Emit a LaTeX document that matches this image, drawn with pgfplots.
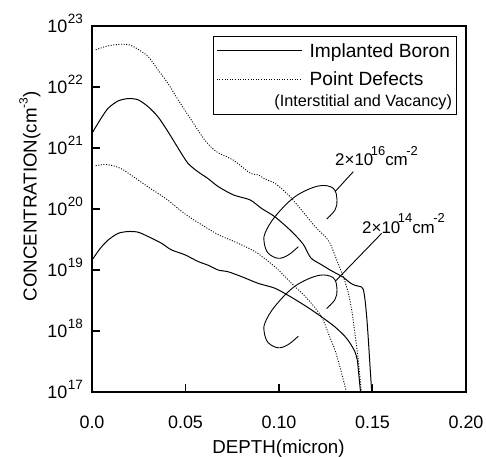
\documentclass[border=0pt]{standalone}
\usepackage{fontspec}
\setmainfont{Liberation Sans}
\usepackage{calc}
\usepackage{pgfplots}
\pgfplotsset{compat=1.18}
\newcommand{\ytl}[1]{10\kern0.6bp\smash{\raisebox{8.3bp}{\fontsize{13.5}{14}\selectfont #1}}}
\newcommand{\ann}[1]{2×10\kern-2.5bp\raisebox{10.5bp}{\fontsize{13}{13}\selectfont #1}cm\kern-1.5bp\raisebox{10.5bp}{\fontsize{13}{13}\selectfont -2}}
\begin{document}
\begin{tikzpicture}
\begin{axis}[
  at={(92bp,65bp)}, anchor=south west,
  scale only axis, width=374bp, height=366bp,
  xmin=0, xmax=0.2, ymin=1e17, ymax=1e23, ymode=log,
  xtick={0,0.05,0.1,0.15,0.2},
  xticklabels={0.0,0.05,0.10,0.15,0.20},
  ytick={1e17,1e18,1e19,1e20,1e21,1e22,1e23},
  yticklabels={\ytl{17},\ytl{18},\ytl{19},\ytl{20},\ytl{21},\ytl{22},\ytl{23}},
  yminorticks=false,
  tick align=inside, xtick pos=left, ytick pos=left,
  major tick length=8bp,
  major tick style={line width=1.3bp, black},
  axis line style={line width=1.5bp},
  ticklabel style={font=\fontsize{18}{20}\selectfont},
  xticklabel style={anchor=base, inner sep=0pt, yshift=-36.3bp},
  yticklabel style={anchor=east, inner sep=0pt, xshift=-9bp},
  every axis x label/.style={at={(axis description cs:0.4987,-0.1667)}, anchor=base},
  every axis y label/.style={at={(axis description cs:-0.1479,0.5342)}, rotate=90, anchor=base},
  label style={font=\fontsize{18.8}{20}\selectfont},
  xlabel={DEPTH(micron)},
  ylabel={CONCENTRATION(cm\raisebox{9bp}{\fontsize{12}{12}\selectfont -3})},
  legend cell align=left,
  legend style={at={(axis description cs:0.9751,0.9735)}, anchor=north east,
    draw=black, line width=0.8bp, fill=white,
    font=\fontsize{19.2}{21}\selectfont,
    inner xsep=3.3bp, inner ysep=2bp,
    nodes={inner sep=3bp},
    row sep=3.3bp, column sep=4.3bp},
  legend image code/.code={\draw[#1] (0bp,0bp) -- (85bp,0bp);},
]
% high dose boron
\addplot[black, line width=1bp, smooth, tension=0.45] coordinates {
(0,1.74e21) (0.0043,2.88e21) (0.0086,4.47e21) (0.0139,5.89e21) (0.0193,6.46e21)
(0.0246,6.17e21) (0.0299,4.79e21) (0.0353,3.24e21) (0.0406,1.86e21) (0.0460,1.00e21)
(0.0513,5.62e20) (0.0567,4.07e20) (0.0620,3.16e20) (0.0674,2.34e20) (0.0756,1.70e20)
(0.0845,1.41e20) (0.0907,1.02e20) (0.0979,7.41e19) (0.1068,4.27e19) (0.1130,2.63e19)
(0.1170,1.58e19) (0.1225,1.23e19) (0.1273,1.00e19) (0.1309,8.71e18) (0.1344,7.59e18)
(0.1380,6.17e18) (0.1406,5.62e18) (0.1442,5.25e18) (0.1451,4.79e18) (0.1460,3.24e18)
(0.1469,1.70e18) (0.1478,7.08e17) (0.1487,2.57e17) (0.1496,1.00e17)
};
\addlegendentry[text height=16.3bp, text depth=2.9bp]{Implanted Boron}
% high dose point defects
\addplot[black, line width=0.9bp, dash pattern=on 1bp off 1.6bp, smooth, tension=0.45] coordinates {
(0.002,4.07e22) (0.008,4.68e22) (0.015,5.01e22) (0.020,4.90e22) (0.024,4.27e22)
(0.030,3.16e22) (0.0353,1.91e22) (0.0406,1.15e22) (0.0460,6.17e21) (0.0531,2.88e21)
(0.0603,1.35e21) (0.0665,8.71e20) (0.0756,6.31e20) (0.0845,3.89e20) (0.0890,3.63e20)
(0.0925,3.09e20) (0.0979,2.63e20) (0.1050,1.70e20) (0.1121,9.55e19) (0.1193,5.13e19)
(0.1246,3.55e19) (0.1273,2.75e19) (0.1309,1.45e19) (0.1344,7.76e18) (0.1371,4.17e18)
(0.1389,2.19e18) (0.1406,9.12e17) (0.1424,3.31e17) (0.1440,1.00e17)
};
\addlegendentry[text height=16.3bp, text depth=2.9bp]{Point Defects}
% low dose boron
\addplot[black, line width=1bp, forget plot, smooth, tension=0.45] coordinates {
(0,1.45e19) (0.0043,2.24e19) (0.0086,3.09e19) (0.0139,3.98e19) (0.0193,4.27e19)
(0.0246,4.17e19) (0.0299,3.55e19) (0.0371,2.75e19) (0.0424,2.14e19) (0.0496,1.78e19)
(0.0567,1.38e19) (0.0620,1.20e19) (0.0674,1.00e19) (0.0729,9.33e18) (0.0801,7.76e18)
(0.0889,6.03e18) (0.0979,5.01e18) (0.1068,3.55e18) (0.1157,2.40e18) (0.1228,1.70e18)
(0.1299,1.17e18) (0.1353,8.13e17) (0.1380,6.31e17) (0.1406,4.57e17) (0.1419,3.31e17)
(0.1426,2.04e17) (0.1436,1.00e17)
};
% low dose point defects
\addplot[black, line width=0.9bp, dash pattern=on 1bp off 1.6bp, forget plot, smooth, tension=0.45] coordinates {
(0.002,5.13e20) (0.0079,5.37e20) (0.0150,4.68e20) (0.0221,3.39e20) (0.0310,2.19e20)
(0.0399,1.45e20) (0.0506,7.94e19) (0.0663,3.98e19) (0.0765,2.88e19) (0.0872,2.00e19)
(0.0979,1.12e19) (0.1068,6.03e18) (0.1157,3.24e18) (0.1228,1.70e18) (0.1264,9.12e17)
(0.1299,4.90e17) (0.1326,2.57e17) (0.1344,1.58e17) (0.1360,1.00e17)
};
\addlegendimage{empty legend}
\addlegendentry[text height=8bp, text depth=3bp]{\makebox[\widthof{Implanted Boron}][r]{\fontsize{16.3}{18}\selectfont (Interstitial and Vacancy)\kern-2bp}}
\end{axis}
\begin{scope}[x=1bp, y=-1bp, yshift=457bp]
\draw[line width=0.9bp] plot[smooth, tension=0.6] coordinates {
(298.3,246.7) (288.3,255) (278.3,258.3) (268.3,253.3) (264.3,243.3) (265,233.3)
(275,216.7) (295,196.7) (318.3,186) (333.3,188.3) (337,200) (335,210) (326.7,219)};
\draw[line width=0.9bp] (353.3,171.7) -- (335,191.7);
\begin{scope}[yshift=-89.5bp]
\draw[line width=0.9bp] plot[smooth, tension=0.6] coordinates {
(298.3,246.7) (288.3,255) (278.3,258.3) (268.3,253.3) (264.3,243.3) (265,233.3)
(275,216.7) (295,196.7) (318.3,186) (333.3,188.3) (337,200) (335,210) (326.7,219)};
\end{scope}
\draw[line width=0.9bp] (381.7,233.3) -- (335.5,281);
\node[anchor=base west, inner sep=0pt, font=\fontsize{17}{19}\selectfont] at (335,166) {\ann{16}};
\node[anchor=base west, inner sep=0pt, font=\fontsize{17}{19}\selectfont] at (362,233.3) {\ann{14}};
\end{scope}
\pgfresetboundingbox
\path[use as bounding box] (0,0) rectangle (486bp,457bp);
\end{tikzpicture}
\end{document}
